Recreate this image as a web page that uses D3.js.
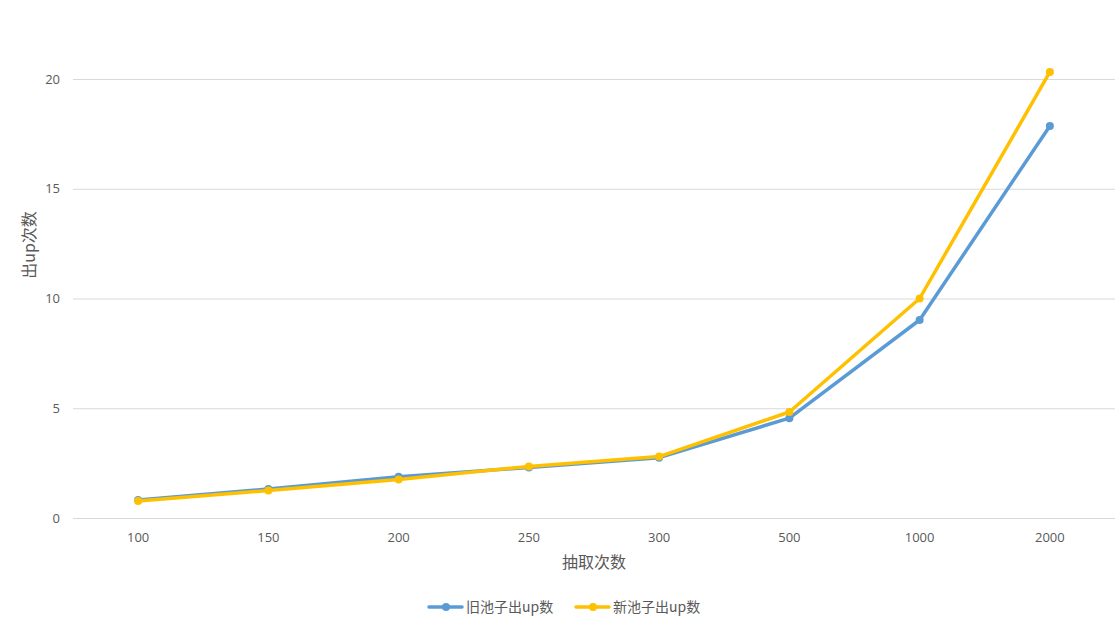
<!DOCTYPE html>
<html><head><meta charset="utf-8">
<script src="https://cdn.jsdelivr.net/npm/d3@7/dist/d3.min.js"></script>
<style>body{margin:0;background:#fff}text{font-family:"Noto Sans CJK SC","Open Sans",sans-serif}</style>
</head><body><svg id="c" width="1119" height="625"></svg>
<script>
const categories = ["100","150","200","250","300","500","1000","2000"];
const oldPool = [0.82, 1.32, 1.88, 2.30, 2.75, 4.55, 9.02, 17.86];
const newPool = [0.77, 1.25, 1.75, 2.35, 2.80, 4.83, 10.0, 20.32];
const yTicks = [0, 5, 10, 15, 20];
const seriesNames = ["旧池子出up数", "新池子出up数"];
const colors = ["#5B9BD5", "#FFC000"];

(function () {
const svg = d3.select("#c");
const pl = 73, pr = 1115, pt = 79, pb = 518;
const x = d3.scaleBand().domain(categories).range([pl, pr]);
const y = d3.scaleLinear().domain([0, 20]).range([pb, pt]);
const font = '"Open Sans","Noto Sans CJK SC",sans-serif';

// gridlines
svg.append("g").selectAll("line").data(yTicks).join("line")
  .attr("x1", pl).attr("x2", pr)
  .attr("y1", d => y(d) + 0.5).attr("y2", d => y(d) + 0.5)
  .attr("stroke", "#d9d9d9").attr("stroke-width", 1);

// y tick labels
svg.append("g").selectAll("text").data(yTicks).join("text")
  .attr("x", 60).attr("y", d => y(d)).attr("dy", "0.35em")
  .attr("text-anchor", "end").attr("fill", "#595959")
  .style("font-size", "13px").style("font-family", font).text(d => d);

// x tick labels
svg.append("g").selectAll("text").data(categories).join("text")
  .attr("x", d => x(d) + x.bandwidth() / 2).attr("y", 542)
  .attr("text-anchor", "middle").attr("fill", "#595959")
  .style("font-size", "13px").style("font-family", font).text(d => d);

// axis titles
svg.append("text").attr("x", 594).attr("y", 568).attr("text-anchor", "middle")
  .attr("fill", "#595959").style("font-size", "16px").text("抽取次数");
svg.append("text").attr("transform", "translate(35,245) rotate(-90)").attr("text-anchor", "middle")
  .attr("fill", "#595959").style("font-size", "16px").text("出up次数");

const line = d3.line().x((d, i) => x(categories[i]) + x.bandwidth() / 2).y(d => y(d));
[oldPool, newPool].forEach((vals, k) => {
  const g = svg.append("g");
  g.append("path").datum(vals).attr("d", line).attr("fill", "none")
    .attr("stroke", colors[k]).attr("stroke-width", 3.5).attr("stroke-linejoin", "round").attr("stroke-linecap", "round");
  g.selectAll("circle").data(vals).join("circle")
    .attr("cx", (d, i) => x(categories[i]) + x.bandwidth() / 2).attr("cy", d => y(d))
    .attr("r", 4).attr("fill", colors[k]);
});

// legend
const legendX = [429, 576];
seriesNames.forEach((n, k) => {
  const g = svg.append("g").attr("transform", `translate(${legendX[k]},607)`);
  g.append("line").attr("x1", 0).attr("x2", 33).attr("stroke", colors[k]).attr("stroke-width", 3.5).attr("stroke-linecap", "round");
  g.append("circle").attr("cx", 17).attr("r", 4).attr("fill", colors[k]);
  g.append("text").attr("x", 37).attr("dy", "0.35em").attr("fill", "#595959")
    .style("font-size", "14px").text(n);
});
})();
</script></body></html>
